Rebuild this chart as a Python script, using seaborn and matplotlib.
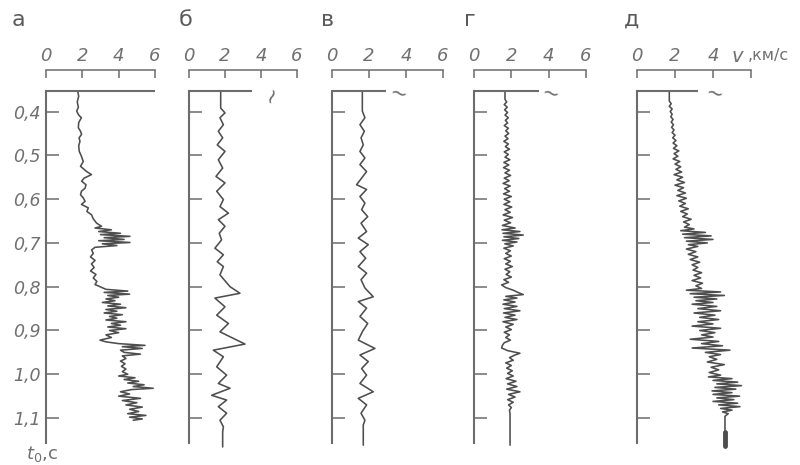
import matplotlib
matplotlib.use("Agg")
import matplotlib.pyplot as plt
import seaborn as sns

# ---------------- data ----------------
LETTERS = ["а", "б", "в", "г", "д"]
SCALE_TICKS = [0, 2, 4, 6]
SCALE_LABELS = ["0", "2", "4", "6"]
SCALE_LABELS_LAST = ["0", "2", "4", ""]
T_TICKS = [0.4, 0.5, 0.6, 0.7, 0.8, 0.9, 1.0, 1.1]
T_LABELS = ["0,4", "0,5", "0,6", "0,7", "0,8", "0,9", "1,0", "1,1"]
T_TOP = 0.353
T_BOTTOM = 1.157
TOP_LINE_END = [6.0, 3.5, 2.9, 3.46, 3.2]
BREAK_V = [None, 4.6, 3.6, 4.1, 4.1]

A_T = [0.353, 0.365, 0.378, 0.390, 0.399, 0.408, 0.414, 0.425, 0.437, 0.445, 0.452, 0.460,
       0.468, 0.478, 0.491, 0.502, 0.514, 0.525, 0.537, 0.544, 0.552, 0.559, 0.567, 0.575,
       0.582, 0.590, 0.597, 0.605, 0.612, 0.620, 0.628, 0.636, 0.645, 0.655, 0.662, 0.666,
       0.670, 0.674, 0.678, 0.681, 0.685, 0.688, 0.692, 0.695, 0.699, 0.702, 0.706, 0.710,
       0.716, 0.724, 0.732, 0.740, 0.748, 0.756, 0.764, 0.772, 0.780, 0.788, 0.795, 0.800,
       0.806, 0.810, 0.813, 0.817, 0.820, 0.824, 0.828, 0.832, 0.836, 0.840, 0.844, 0.848,
       0.852, 0.856, 0.860, 0.864, 0.868, 0.872, 0.876, 0.880, 0.884, 0.888, 0.892, 0.896,
       0.900, 0.905, 0.910, 0.916, 0.922, 0.926, 0.930, 0.934, 0.937, 0.941, 0.945, 0.950,
       0.954, 0.958, 0.964, 0.970, 0.976, 0.982, 0.988, 0.994, 1.000, 1.004, 1.008, 1.012,
       1.016, 1.020, 1.024, 1.028, 1.032, 1.035, 1.040, 1.045, 1.050, 1.055, 1.060, 1.065,
       1.070, 1.075, 1.080, 1.085, 1.090, 1.094, 1.098, 1.102, 1.105]
A_V = [1.74, 1.80, 1.72, 1.78, 1.69, 1.80, 1.95, 1.80, 1.78, 1.90, 1.96, 1.82,
       1.87, 1.80, 1.83, 1.95, 2.05, 1.90, 2.24, 2.50, 2.10, 1.96, 2.20, 2.15,
       1.95, 1.90, 2.05, 2.15, 1.95, 2.33, 2.25, 2.51, 2.60, 2.79, 3.06, 2.70,
       3.60, 2.90, 4.10, 3.00, 4.62, 3.20, 4.30, 2.90, 4.62, 3.10, 3.90, 2.70,
       2.51, 2.60, 2.45, 2.70, 2.50, 2.65, 2.45, 2.75, 2.60, 2.80, 2.70, 2.97,
       3.30, 4.50, 3.20, 4.60, 3.40, 4.00, 3.30, 3.80, 3.10, 4.10, 3.40, 4.40,
       3.30, 3.90, 3.20, 4.20, 3.50, 3.90, 3.30, 4.40, 3.60, 4.10, 3.40, 4.40,
       3.50, 4.00, 3.30, 3.60, 2.97, 3.30, 4.00, 5.45, 4.20, 5.30, 4.10, 4.30,
       5.20, 4.20, 4.40, 4.10, 4.35, 4.15, 4.40, 4.20, 4.50, 4.00, 4.90, 4.30,
       5.10, 4.50, 5.40, 4.80, 5.90, 4.70, 4.10, 4.60, 4.00, 5.20, 4.20, 5.00,
       4.40, 5.30, 4.60, 5.10, 4.50, 5.50, 4.60, 5.30, 4.80]

B_T = [0.352, 0.392, 0.403, 0.414, 0.430, 0.445, 0.460, 0.476, 0.491, 0.510, 0.529, 0.548,
       0.563, 0.582, 0.601, 0.617, 0.632, 0.647, 0.662, 0.678, 0.693, 0.712, 0.727, 0.743,
       0.754, 0.773, 0.800, 0.815, 0.826, 0.846, 0.865, 0.884, 0.903, 0.918, 0.931, 0.945,
       0.960, 0.983, 1.002, 1.021, 1.032, 1.048, 1.059, 1.074, 1.089, 1.105, 1.120, 1.132,
       1.166]
B_V = [1.76, 1.76, 2.00, 1.72, 1.91, 1.63, 1.87, 1.57, 2.00, 1.63, 1.87, 1.50,
       2.00, 1.54, 1.91, 1.72, 2.19, 1.63, 2.00, 1.68, 1.81, 1.44, 1.91, 1.57,
       1.91, 1.72, 2.28, 2.83, 1.44, 2.00, 1.54, 2.19, 1.72, 2.46, 3.11, 1.35,
       1.91, 1.54, 2.09, 1.63, 2.28, 1.26, 2.09, 1.63, 2.09, 1.72, 1.91, 1.87,
       1.87]

C_T = [0.353, 0.399, 0.414, 0.430, 0.445, 0.460, 0.476, 0.491, 0.506, 0.521, 0.537, 0.552,
       0.567, 0.578, 0.594, 0.609, 0.624, 0.640, 0.655, 0.674, 0.689, 0.704, 0.720, 0.735,
       0.754, 0.769, 0.784, 0.803, 0.823, 0.834, 0.849, 0.868, 0.884, 0.903, 0.922, 0.941,
       0.956, 0.971, 0.987, 1.002, 1.021, 1.040, 1.055, 1.070, 1.089, 1.105, 1.116, 1.162]
C_V = [1.64, 1.64, 1.78, 1.51, 1.75, 1.57, 1.69, 1.51, 1.78, 1.51, 1.87, 1.60,
       1.33, 1.87, 1.51, 1.78, 1.60, 1.93, 1.57, 1.87, 1.42, 1.96, 1.51, 1.82,
       1.42, 1.87, 1.57, 1.78, 2.23, 1.42, 1.87, 1.51, 1.93, 1.64, 1.42, 2.32,
       1.51, 1.96, 1.60, 1.87, 1.51, 2.23, 1.42, 1.87, 1.57, 1.78, 1.69, 1.69]

D_T = [0.353, 0.372, 0.378, 0.384, 0.390, 0.396, 0.402, 0.408, 0.414, 0.420, 0.426, 0.432,
       0.438, 0.444, 0.450, 0.456, 0.462, 0.468, 0.474, 0.480, 0.486, 0.492, 0.498, 0.504,
       0.510, 0.516, 0.522, 0.528, 0.534, 0.540, 0.546, 0.552, 0.558, 0.564, 0.570, 0.576,
       0.582, 0.588, 0.594, 0.600, 0.606, 0.612, 0.618, 0.624, 0.630, 0.636, 0.642, 0.648,
       0.654, 0.660, 0.666, 0.670, 0.674, 0.678, 0.682, 0.686, 0.690, 0.694, 0.698, 0.702,
       0.707, 0.712, 0.718, 0.724, 0.730, 0.736, 0.742, 0.748, 0.754, 0.760, 0.766, 0.772,
       0.778, 0.784, 0.790, 0.796, 0.802, 0.808, 0.814, 0.818, 0.822, 0.826, 0.830, 0.835,
       0.840, 0.845, 0.850, 0.855, 0.860, 0.865, 0.870, 0.875, 0.880, 0.886, 0.892, 0.898,
       0.904, 0.910, 0.916, 0.922, 0.928, 0.934, 0.940, 0.946, 0.952, 0.956, 0.962, 0.968,
       0.974, 0.980, 0.986, 0.992, 0.998, 1.004, 1.010, 1.016, 1.022, 1.028, 1.034, 1.040,
       1.046, 1.052, 1.058, 1.064, 1.070, 1.076, 1.082, 1.090, 1.162]
D_V = [1.66, 1.66, 1.75, 1.62, 1.78, 1.64, 1.80, 1.66, 1.84, 1.68, 1.80, 1.62,
       1.84, 1.70, 1.86, 1.66, 1.82, 1.60, 1.84, 1.68, 1.90, 1.62, 1.84, 1.66,
       1.92, 1.60, 1.86, 1.58, 1.90, 1.66, 1.96, 1.62, 1.88, 1.56, 1.94, 1.64,
       1.90, 1.58, 2.00, 1.62, 1.92, 1.60, 2.02, 1.66, 1.94, 1.56, 2.06, 1.62,
       1.96, 1.52, 2.20, 1.50, 2.46, 1.55, 2.64, 1.60, 2.40, 1.52, 2.30, 1.65,
       2.10, 1.60, 1.95, 1.70, 2.00, 1.62, 1.95, 1.70, 2.05, 1.66, 1.92, 1.72,
       2.00, 1.60, 1.85, 1.48, 1.70, 2.10, 2.40, 2.64, 1.70, 2.30, 1.60, 2.20,
       1.55, 2.30, 1.62, 2.46, 1.58, 2.20, 1.66, 2.30, 1.55, 2.10, 1.70, 2.00,
       1.62, 1.90, 1.70, 1.95, 1.62, 1.52, 1.48, 1.80, 2.46, 2.20, 1.90, 2.10,
       1.70, 2.00, 1.75, 2.05, 1.80, 2.10, 1.72, 2.25, 1.80, 2.30, 1.75, 2.46,
       1.85, 2.20, 1.80, 2.10, 1.85, 2.00, 1.90, 1.93, 1.93]

E_T = [0.353, 0.376, 0.382, 0.388, 0.394, 0.400, 0.406, 0.412, 0.418, 0.424, 0.430, 0.436,
       0.442, 0.448, 0.454, 0.460, 0.466, 0.472, 0.478, 0.484, 0.490, 0.496, 0.502, 0.508,
       0.514, 0.520, 0.526, 0.532, 0.538, 0.544, 0.550, 0.556, 0.562, 0.568, 0.574, 0.580,
       0.586, 0.592, 0.598, 0.604, 0.610, 0.616, 0.622, 0.628, 0.634, 0.640, 0.646, 0.652,
       0.658, 0.664, 0.668, 0.672, 0.676, 0.680, 0.684, 0.688, 0.692, 0.696, 0.700, 0.704,
       0.708, 0.714, 0.720, 0.726, 0.732, 0.738, 0.744, 0.750, 0.756, 0.762, 0.768, 0.774,
       0.780, 0.786, 0.792, 0.798, 0.804, 0.808, 0.812, 0.816, 0.820, 0.824, 0.828, 0.832,
       0.836, 0.840, 0.845, 0.850, 0.855, 0.860, 0.865, 0.870, 0.875, 0.880, 0.885, 0.890,
       0.895, 0.900, 0.905, 0.910, 0.915, 0.920, 0.925, 0.930, 0.935, 0.940, 0.945, 0.950,
       0.955, 0.960, 0.966, 0.972, 0.978, 0.984, 0.990, 0.996, 1.002, 1.006, 1.010, 1.014,
       1.018, 1.022, 1.026, 1.030, 1.034, 1.038, 1.042, 1.046, 1.050, 1.054, 1.058, 1.062,
       1.066, 1.070, 1.074, 1.078, 1.082, 1.086, 1.090, 1.096, 1.166]
E_V = [1.70, 1.70, 1.80, 1.70, 1.85, 1.75, 1.85, 1.78, 1.90, 1.80, 1.92, 1.82,
       1.95, 1.85, 2.00, 1.88, 2.05, 1.90, 2.10, 1.92, 2.20, 1.95, 2.15, 1.90,
       2.25, 2.00, 2.30, 2.05, 2.35, 1.95, 2.40, 2.10, 2.50, 2.00, 2.45, 2.15,
       2.55, 2.10, 2.60, 2.20, 2.55, 2.25, 2.70, 2.30, 2.65, 2.40, 2.85, 2.45,
       2.75, 2.50, 3.00, 2.30, 3.60, 2.40, 3.90, 2.50, 4.00, 2.60, 3.70, 2.70,
       3.20, 2.60, 3.10, 2.70, 3.20, 2.80, 3.30, 2.90, 3.20, 2.95, 3.40, 3.00,
       3.35, 2.90, 3.45, 3.10, 3.40, 2.60, 4.40, 2.80, 4.60, 3.00, 4.20, 3.10,
       4.00, 2.90, 4.20, 3.20, 4.40, 3.00, 4.10, 3.30, 4.30, 3.20, 4.00, 2.90,
       4.40, 3.30, 4.10, 3.40, 4.00, 2.80, 4.30, 3.40, 4.50, 2.90, 4.89, 3.60,
       4.40, 3.80, 4.20, 3.70, 4.60, 3.90, 4.30, 3.80, 4.40, 3.76, 5.00, 4.00,
       5.30, 4.20, 5.50, 4.10, 5.20, 3.95, 5.00, 4.00, 5.40, 4.20, 5.10, 4.00,
       5.30, 4.30, 5.42, 4.40, 5.00, 4.50, 4.80, 4.63, 4.63]
E_BLOB_T = [1.132, 1.163]
E_BLOB_V = [4.63, 4.63]

SERIES_T = [A_T, B_T, C_T, D_T, E_T]
SERIES_V = [A_V, B_V, C_V, D_V, E_V]

# ---------------- layout / style ----------------
W, H = 800, 465
TOP_PX, BOT_PX = 91, 443
X0_PX = [46, 189, 332, 474, 637]
PX_PER_UNIT = [18.17, 18.0, 18.5, 18.67, 19.0]
LETTER_PX = [18, 186, 328, 470, 632]
CURVE_C = "#4e4e4e"
AXIS_C = "#6c6c6c"
TEXT_C = "#707070"

sns.set_theme(style="white")
plt.rcParams["font.family"] = ["DejaVu Sans"]
plt.rcParams["mathtext.fontset"] = "dejavusans"

fig = plt.figure(figsize=(W / 100, H / 100), dpi=100)
fig.patch.set_facecolor("white")

for i in range(5):
    ax = fig.add_axes([X0_PX[i] / W, 1 - BOT_PX / H,
                       6 * PX_PER_UNIT[i] / W, (BOT_PX - TOP_PX) / H])
    ax.set_facecolor("none")
    sns.lineplot(x=SERIES_V[i], y=SERIES_T[i], ax=ax, orient="y", sort=False,
                 estimator=None, color=CURVE_C, linewidth=1.15)
    if i == 4:
        sns.lineplot(x=E_BLOB_V, y=E_BLOB_T, ax=ax, orient="y", sort=False,
                     estimator=None, color=CURVE_C, linewidth=3.5)
    for ln in ax.lines:
        ln.set_clip_on(False)
        ln.set_solid_joinstyle("round")
    ax.set_xlim(0, 6)
    ax.set_ylim(T_BOTTOM, T_TOP)
    ax.set_xlabel("")
    ax.set_ylabel("")

    # top reference line
    ax.hlines(T_TOP, 0, TOP_LINE_END[i], color=AXIS_C, linewidth=1.5, clip_on=False)
    if BREAK_V[i] is not None:
        ax.text(BREAK_V[i], T_TOP + 0.008, "~", fontsize=15, color=AXIS_C,
                ha="center", va="center", rotation=70 if i == 1 else -15)

    # spines
    for s in ["right", "bottom"]:
        ax.spines[s].set_visible(False)
    ax.spines["left"].set_color(AXIS_C)
    ax.spines["left"].set_linewidth(1.5)
    ax.spines["top"].set_color(AXIS_C)
    ax.spines["top"].set_linewidth(1.1)
    ax.spines["top"].set_position(("outward", 15))

    # top scale
    ax.set_xticks(SCALE_TICKS)
    ax.set_xticklabels(SCALE_LABELS_LAST if i == 4 else SCALE_LABELS)
    ax.tick_params(axis="x", top=True, bottom=False, labeltop=True, labelbottom=False,
                   direction="in", length=6, width=1.1, color=AXIS_C, pad=4,
                   labelsize=13, labelcolor=TEXT_C)
    for lbl in ax.get_xticklabels():
        lbl.set_fontstyle("italic")

    # time ticks
    ax.set_yticks(T_TICKS)
    ax.set_yticklabels(T_LABELS if i == 0 else [""] * len(T_TICKS))
    ax.tick_params(axis="y", left=True, right=False, direction="in", length=9.5,
                   width=1.1, color=AXIS_C, pad=4, labelsize=12.5, labelcolor=TEXT_C)
    for lbl in ax.get_yticklabels():
        lbl.set_fontstyle("italic")
    ax.grid(False)

    fig.text(LETTER_PX[i] / W, 1 - 20 / H, LETTERS[i], fontsize=16, color="#5a5a5a",
             ha="center", va="center")

fig.text(731 / W, 1 - 56 / H, "$v$", fontsize=14, color=TEXT_C, ha="left", va="center")
fig.text(748 / W, 1 - 55 / H, ",км/с", fontsize=11.5, color=TEXT_C, ha="left", va="center")
fig.text(26 / W, 1 - 454 / H, "$t_0$,c", fontsize=13, color=TEXT_C, ha="left", va="center")

fig.savefig("out.png", dpi=100, facecolor="white")
